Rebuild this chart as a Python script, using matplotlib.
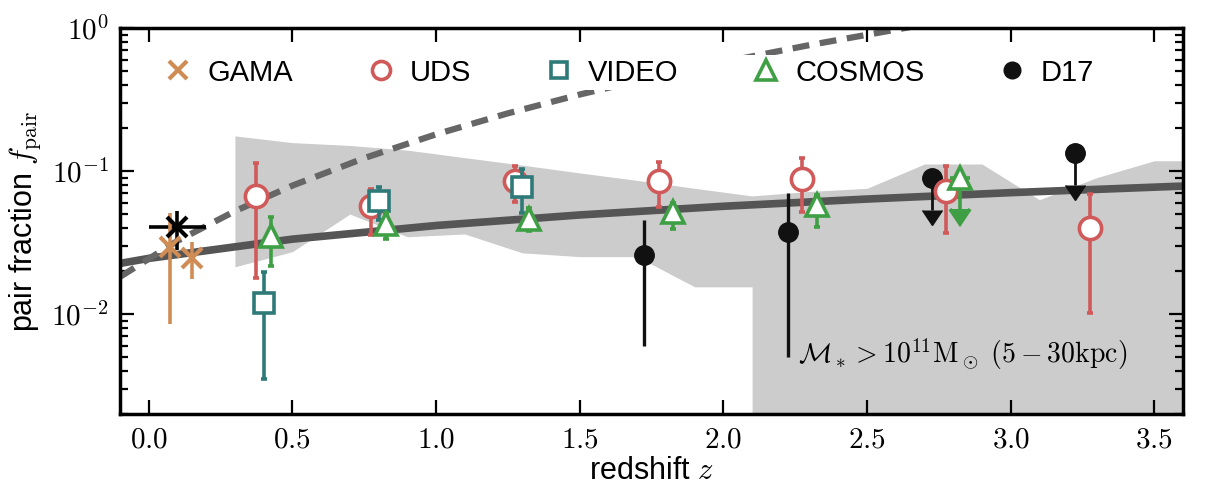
import numpy as np
import matplotlib
matplotlib.use("Agg")
from matplotlib import pyplot as plt
from matplotlib.lines import Line2D
from matplotlib.ticker import MultipleLocator, LogLocator, FuncFormatter, NullFormatter

plt.rcParams['font.family'] = ['Liberation Sans', 'DejaVu Sans']
plt.rcParams['mathtext.fontset'] = 'cm'

# ---- values ----
# best-fit power law (solid) and steep model curve (dashed)
fit_z = [-0.1, 0.0, 0.5, 1.0, 1.5, 2.0, 2.5, 3.0, 3.6]
fit_f = [0.0226, 0.0245, 0.0334, 0.0416, 0.0493, 0.0567, 0.0637, 0.0706, 0.0785]
dash_z = [-0.1, 0.1, 0.3, 0.5, 0.75, 1.0, 1.25, 1.5, 1.75, 2.0, 2.3, 2.65]
dash_f = [0.0182, 0.0325, 0.0524, 0.0791, 0.1231, 0.1806, 0.2532, 0.3427, 0.4504, 0.5782, 0.760, 1.015]

# grey band
shade_z = [0.3, 0.5, 0.7, 0.9, 1.1, 1.3, 1.5, 1.7, 1.9, 2.1, 2.1, 2.3, 2.5, 2.7, 2.9, 3.1, 3.3, 3.5, 3.6]
shade_hi = [0.176, 0.158, 0.151, 0.140, 0.124, 0.110, 0.097, 0.086, 0.0757, 0.067, 0.067, 0.072,
            0.0757, 0.112, 0.112, 0.063, 0.090, 0.118, 0.118]
shade_lo = [0.0214, 0.0273, 0.050, 0.0347, 0.0363, 0.0268, 0.0252, 0.0252, 0.0155, 0.0155, 0.001,
            0.001, 0.001, 0.001, 0.001, 0.001, 0.001, 0.001, 0.001]

# GAMA
gama_z = [0.075, 0.15]
gama_f = [0.0296, 0.0245]
gama_lo = [0.0085, 0.0175]
gama_hi = [0.0506, 0.032]

# local black point
loc_z = [0.1]
loc_f = [0.0406]
loc_zerr = [0.1]
loc_lo = [0.028]
loc_hi = [0.0525]

# UDS
uds_z = [0.375, 0.775, 1.275, 1.775, 2.275, 2.775, 3.275]
uds_f = [0.0668, 0.0572, 0.085, 0.0855, 0.0879, 0.0728, 0.0397]
uds_lo = [0.0178, 0.0357, 0.061, 0.0563, 0.052, 0.0366, 0.0101]
uds_hi = [0.113, 0.075, 0.108, 0.115, 0.124, 0.108, 0.0687]

# VIDEO
video_z = [0.4, 0.8, 1.3]
video_f = [0.0119, 0.062, 0.0777]
video_lo = [0.0035, 0.0454, 0.0506]
video_hi = [0.0198, 0.0769, 0.104]

# COSMOS (last bin is an upper limit)
cosmos_z = [0.425, 0.825, 1.325, 1.825, 2.325]
cosmos_f = [0.035, 0.0425, 0.0464, 0.0521, 0.0578]
cosmos_lo = [0.0217, 0.0333, 0.038, 0.0394, 0.0404]
cosmos_hi = [0.048, 0.0506, 0.055, 0.060, 0.068]
cosmos_ul_z = [2.825]
cosmos_ul_f = [0.090]
cosmos_ul_lim = [0.054]

# D17 (last two are upper limits)
d17_z = [1.725, 2.225]
d17_f = [0.0257, 0.0377]
d17_lo = [0.006, 0.00503]
d17_hi = [0.0454, 0.0698]
d17_ul_z = [2.725, 3.225]
d17_ul_f = [0.0889, 0.133]
d17_ul_lim = [0.0533, 0.0798]

c_gama = '#d08c55'
c_uds = '#d05a5a'
c_video = '#2e7a78'
c_cosmos = '#3f9f45'
c_d17 = '#111111'


def yerr(f, lo, hi):
    f = np.array(f)
    return [f - np.array(lo), np.array(hi) - f]


fig = plt.figure(figsize=(12.06, 4.88), dpi=100)
ax = fig.add_axes([0.0995, 0.1516, 0.8815, 0.791])

ax.fill_between(shade_z, shade_lo, shade_hi, color='#cccccc', lw=0, zorder=1)
ax.plot(fit_z, fit_f, color='#555555', lw=5.5, zorder=2, solid_capstyle='butt')
ax.plot(dash_z, dash_f, color='#666666', lw=4.5, ls=(0, (2.7, 1.7)), zorder=2)

ms = 16
mew = 2.6
elw = 2.6

# D17
ax.errorbar(d17_z, d17_f, yerr=yerr(d17_f, d17_lo, d17_hi), fmt='o', color=c_d17,
            ms=14, elinewidth=2.4, capsize=0, zorder=3)
d17_ul_err = np.array(d17_ul_f) - np.array(d17_ul_lim)
ax.errorbar(d17_ul_z, d17_ul_f, yerr=d17_ul_err, uplims=True, fmt='o', color=c_d17,
            ms=14, elinewidth=2.0, capsize=7, zorder=3)

# GAMA and local point
ax.errorbar(loc_z, loc_f, xerr=loc_zerr, yerr=yerr(loc_f, loc_lo, loc_hi), fmt='x',
            color='black', ms=14, mew=3, elinewidth=2.6, capsize=0, zorder=4)
ax.errorbar(gama_z, gama_f, yerr=yerr(gama_f, gama_lo, gama_hi), fmt='x', color=c_gama,
            ms=14, mew=3, elinewidth=2.6, capsize=0, zorder=4)

# UDS
ax.errorbar(uds_z, uds_f, yerr=yerr(uds_f, uds_lo, uds_hi), fmt='o', color=c_uds, mfc='white',
            mec=c_uds, ms=ms, mew=mew, elinewidth=elw, capsize=2, capthick=elw, zorder=5)
# VIDEO
ax.errorbar(video_z, video_f, yerr=yerr(video_f, video_lo, video_hi), fmt='s', color=c_video,
            mfc='white', mec=c_video, ms=15, mew=mew, elinewidth=elw, capsize=2,
            capthick=elw, zorder=6)
# COSMOS
ax.errorbar(cosmos_z, cosmos_f, yerr=yerr(cosmos_f, cosmos_lo, cosmos_hi), fmt='^',
            color=c_cosmos, mfc='white', mec=c_cosmos, ms=ms, mew=mew, elinewidth=elw,
            capsize=2, capthick=elw, zorder=7)
cosmos_ul_err = np.array(cosmos_ul_f) - np.array(cosmos_ul_lim)
ax.errorbar(cosmos_ul_z, cosmos_ul_f, yerr=cosmos_ul_err, uplims=True, fmt='^',
            color=c_cosmos, mfc='white', mec=c_cosmos, ms=ms, mew=mew, elinewidth=elw,
            capsize=7, zorder=7)

ax.text(2.258, 0.0052, r'$\mathcal{M}_* > 10^{11}\mathrm{M}_\odot\ (5-30\mathrm{kpc})$',
        fontsize=20, va='center', ha='left', zorder=8)

handles = [
    Line2D([], [], ls='', marker='x', color=c_gama, ms=13, mew=3),
    Line2D([], [], ls='', marker='o', mfc='white', mec=c_uds, ms=13, mew=mew),
    Line2D([], [], ls='', marker='s', mfc='white', mec=c_video, ms=12, mew=mew),
    Line2D([], [], ls='', marker='^', mfc='white', mec=c_cosmos, ms=14, mew=mew),
    Line2D([], [], ls='', marker='o', color=c_d17, ms=12),
]
labels = ['GAMA', 'UDS', 'VIDEO', 'COSMOS', 'D17']
leg = ax.legend(handles, labels, loc='upper left', bbox_to_anchor=(0.038, 0.93), ncol=5,
                fontsize=21, frameon=True, framealpha=1, edgecolor='none', facecolor='white',
                handlelength=1.0, handletextpad=0.5, columnspacing=2.5, borderpad=0.12,
                borderaxespad=0.0)
leg.set_zorder(9)

ax.set_yscale('log')
ax.set_xlim(-0.1, 3.6)
ax.set_ylim(0.002, 1.0)

ax.xaxis.set_major_locator(MultipleLocator(0.5))
ax.xaxis.set_major_formatter(FuncFormatter(lambda v, p: r'$%.1f$' % v))
ax.yaxis.set_major_locator(LogLocator(base=10, numticks=10))
ax.yaxis.set_minor_locator(LogLocator(base=10, subs=np.arange(2, 10), numticks=20))
ax.yaxis.set_major_formatter(FuncFormatter(lambda v, p: r'$10^{%d}$' % int(round(np.log10(v)))))
ax.yaxis.set_minor_formatter(NullFormatter())

ax.tick_params(which='both', direction='in', top=True, right=True, labelsize=21)
ax.tick_params(which='major', length=10, width=1.6, pad=8)
ax.tick_params(which='minor', length=5.5, width=1.6)
for s in ax.spines.values():
    s.set_linewidth(2.5)

ax.set_xlabel(r'redshift $z$', fontsize=22, labelpad=2)
ax.set_ylabel(r'pair fraction $f_\mathrm{pair}$', fontsize=22, labelpad=6)

fig.savefig('out.png', dpi=100)
